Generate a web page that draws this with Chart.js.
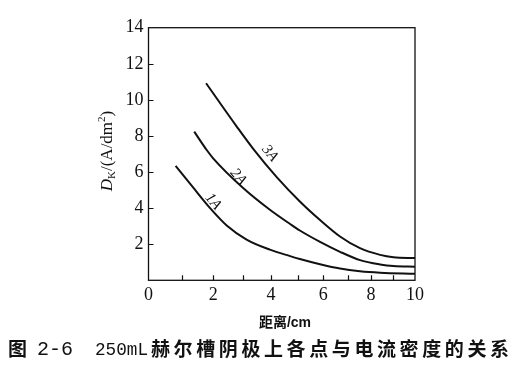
<!DOCTYPE html>
<html>
<head>
<meta charset="utf-8">
<script src="https://cdn.jsdelivr.net/npm/chart.js@4"></script>
<style>
html,body{margin:0;padding:0;background:#fff;}
#wrap{width:516px;height:380px;}
</style>
</head>
<body>
<div id="wrap"><canvas id="c" width="516" height="380"></canvas></div>
<script>
// ---- data ----
const xTickLabels = [0, 2, 4, 6, 8, 10];
const yTickLabels = [2, 4, 6, 8, 10, 12, 14];
const seriesNames = ["1A", "2A", "3A"];

const x1A = [0.81, 1.36, 1.90, 2.45, 3.13, 3.96, 4.71, 5.08, 5.87, 6.68, 7.52, 8.40, 10.0];
const y1A = [6.34, 5.13, 4.00, 3.04, 2.26, 1.70, 1.34, 1.18, 0.89, 0.65, 0.50, 0.42, 0.36];

const x2A = [1.39, 1.79, 2.00, 3.02, 3.96, 4.71, 5.08, 5.87, 6.68, 7.52, 8.40, 9.00, 10.0];
const y2A = [8.24, 7.22, 6.76, 5.10, 3.91, 3.12, 2.76, 2.13, 1.58, 1.12, 0.88, 0.79, 0.75];

const x3A = [1.77, 2.79, 3.37, 4.21, 5.08, 5.87, 6.68, 7.52, 8.40, 9.00, 10.0];
const y3A = [10.92, 8.52, 7.27, 5.72, 4.37, 3.34, 2.43, 1.78, 1.41, 1.28, 1.23];

// curve label anchors (data coordinates)
const labelX = [2.0, 2.84, 3.96];
const labelY = [4.36, 5.74, 7.04];

const xTitleCJK = "距离";
const xTitleUnit = "/cm";
const captionFig = "图";
const captionNum = "2-6";
const captionVol = "250mL";
const captionText = "赫尔槽阴极上各点与电流密度的关系";

// ---- warped x scale (the original axis is compressed toward the right) ----
const WARP = 16;
class WarpScale extends Chart.LinearScale {
  getPixelForValue(v) {
    const a = Math.log(this.min + WARP), b = Math.log(this.max + WARP);
    return this.getPixelForDecimal((Math.log(v + WARP) - a) / (b - a));
  }
  getValueForPixel(p) {
    const d = this.getDecimalForPixel(p);
    const a = Math.log(this.min + WARP), b = Math.log(this.max + WARP);
    return Math.exp(a + d * (b - a)) - WARP;
  }
}
WarpScale.id = 'warp';
WarpScale.defaults = Chart.LinearScale.defaults;
Chart.register(WarpScale);

function pts(xs, ys) { return xs.map((x, i) => ({ x: x, y: ys[i] })); }

const SERIF = '"Liberation Serif", "DejaVu Serif", serif';
const CJK = '"Noto Sans CJK SC", sans-serif';
const MONO = '"Liberation Mono", "DejaVu Sans Mono", monospace';

const decor = {
  id: 'decor',
  afterDraw(chart) {
    const ctx = chart.ctx, ca = chart.chartArea;
    const xs = chart.scales.x, ys = chart.scales.y;
    ctx.save();
    ctx.strokeStyle = '#111';
    ctx.lineWidth = 1.3;
    ctx.strokeRect(ca.left, ca.top, ca.right - ca.left, ca.bottom - ca.top);
    // inward tick marks
    ctx.lineWidth = 1.2;
    ctx.beginPath();
    for (let v = 1; v <= 9; v++) {
      const px = Math.round(xs.getPixelForValue(v)) + 0.5;
      ctx.moveTo(px, ca.bottom); ctx.lineTo(px, ca.bottom - 5);
    }
    for (let i = 0; i < yTickLabels.length - 1; i++) {
      const py = Math.round(ys.getPixelForValue(yTickLabels[i])) + 0.5;
      ctx.moveTo(ca.left, py); ctx.lineTo(ca.left + 5, py);
    }
    ctx.stroke();

    // curve labels
    ctx.fillStyle = '#111';
    ctx.textAlign = 'center';
    ctx.textBaseline = 'middle';
    ctx.font = 'italic 15px ' + SERIF;
    for (let i = 0; i < seriesNames.length; i++) {
      const px = xs.getPixelForValue(labelX[i]);
      const py = ys.getPixelForValue(labelY[i]);
      ctx.save();
      ctx.translate(px, py);
      ctx.rotate(50 * Math.PI / 180);
      ctx.fillText(seriesNames[i], 0, 0);
      ctx.restore();
    }

    // y title: D_K/(A/dm^2)
    const parts = [
      { t: 'D', f: 'italic 17px ' + SERIF, dy: 0 },
      { t: 'K', f: '11px ' + SERIF, dy: 4 },
      { t: '/(A/dm', f: '17px ' + SERIF, dy: 0 },
      { t: '2', f: '11px ' + SERIF, dy: -6 },
      { t: ')', f: '17px ' + SERIF, dy: 0 }
    ];
    let total = 0;
    parts.forEach(p => { ctx.font = p.f; p.w = ctx.measureText(p.t).width; total += p.w; });
    ctx.save();
    ctx.translate(108, 151);
    ctx.rotate(-Math.PI / 2);
    ctx.textAlign = 'left';
    ctx.textBaseline = 'middle';
    let cx = -total / 2;
    parts.forEach(p => { ctx.font = p.f; ctx.fillText(p.t, cx, p.dy); cx += p.w; });
    ctx.restore();

    // x title
    ctx.textAlign = 'left';
    ctx.textBaseline = 'middle';
    ctx.font = 'bold 14px ' + CJK;
    const w1 = ctx.measureText(xTitleCJK).width;
    ctx.font = 'bold 14px "Liberation Sans", Arial, sans-serif';
    const w2 = ctx.measureText(xTitleUnit).width;
    let sx = 285 - (w1 + w2) / 2;
    ctx.font = 'bold 14px ' + CJK;
    ctx.fillText(xTitleCJK, sx, 322);
    ctx.font = 'bold 14px "Liberation Sans", Arial, sans-serif';
    ctx.fillText(xTitleUnit, sx + w1, 323);

    // caption
    const cy = 349;
    ctx.font = 'bold 19px ' + CJK;
    ctx.fillText(captionFig, 8, cy);
    ctx.font = '20px ' + MONO;
    ctx.fillText(captionNum, 37, cy + 1, 38);
    ctx.font = '19px ' + MONO;
    ctx.fillText(captionVol, 95, cy + 1, 53);
    ctx.font = 'bold 19px ' + CJK;
    const pitch = 22.6;
    for (let i = 0; i < captionText.length; i++) {
      ctx.fillText(captionText[i], 151 + i * pitch, cy);
    }
    ctx.restore();
  }
};

const lineStyle = {
  borderColor: '#111',
  borderWidth: 2,
  pointRadius: 0,
  fill: false,
  cubicInterpolationMode: 'monotone'
};

new Chart(document.getElementById('c'), {
  type: 'line',
  data: {
    datasets: [
      Object.assign({ label: seriesNames[0], data: pts(x1A, y1A) }, lineStyle),
      Object.assign({ label: seriesNames[1], data: pts(x2A, y2A) }, lineStyle),
      Object.assign({ label: seriesNames[2], data: pts(x3A, y3A) }, lineStyle)
    ]
  },
  options: {
    responsive: false,
    devicePixelRatio: 1,
    animation: false,
    layout: { padding: { left: 0, right: 101, top: 27.7, bottom: 0 } },
    plugins: { legend: { display: false }, tooltip: { enabled: false }, title: { display: false } },
    scales: {
      x: {
        type: 'warp',
        min: 0, max: 10,
        grid: { display: false, drawTicks: false },
        border: { display: false },
        ticks: {
          stepSize: 1, autoSkip: false, maxRotation: 0, padding: 4, color: '#111',
          font: { family: SERIF, size: 18 },
          callback: v => xTickLabels.includes(v) ? String(v) : ''
        },
        afterFit: s => { s.height = 99.7; }
      },
      y: {
        type: 'linear',
        min: 0, max: 14,
        grid: { display: false, drawTicks: false },
        border: { display: false },
        ticks: {
          stepSize: 2, padding: 5, color: '#111',
          font: { family: SERIF, size: 18 },
          callback: v => yTickLabels.includes(v) ? String(v) : ''
        },
        afterFit: s => { s.width = 148.5; }
      }
    }
  },
  plugins: [decor]
});
</script>
</body>
</html>
